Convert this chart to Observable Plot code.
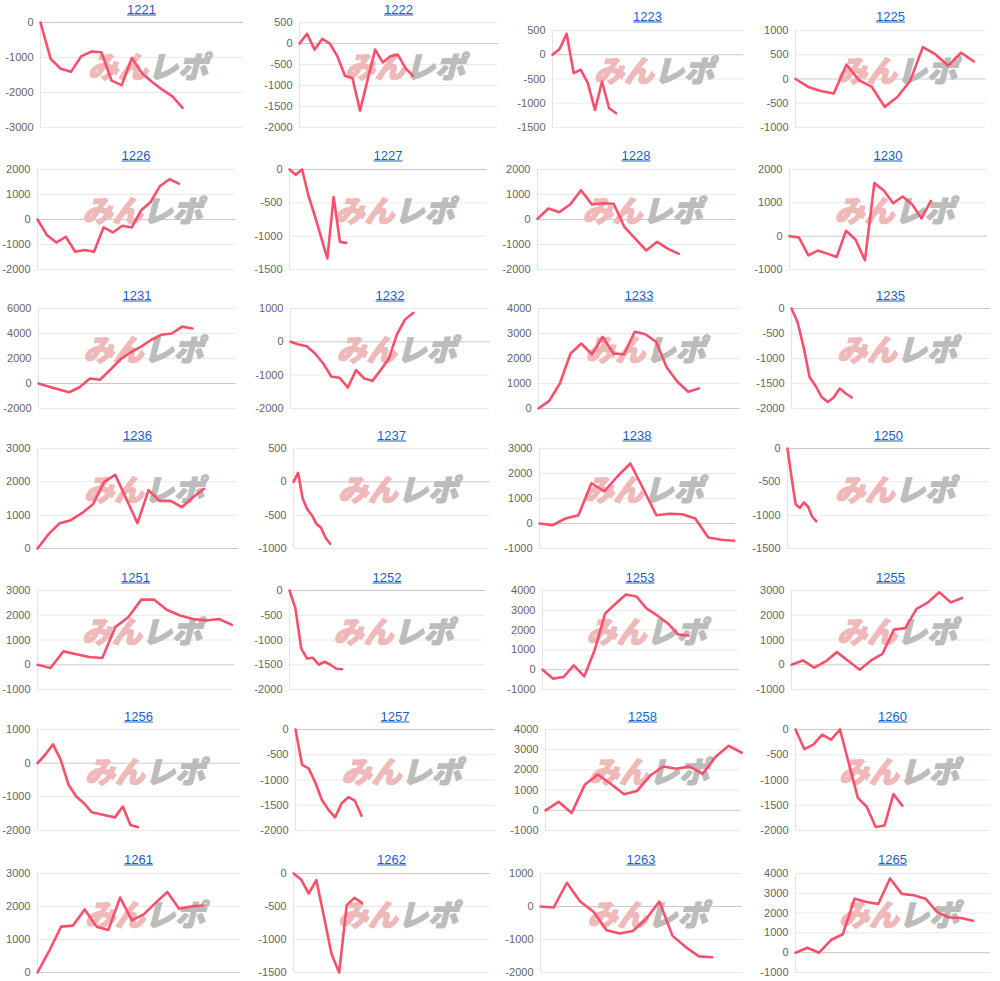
<!DOCTYPE html>
<html>
<head>
<meta charset="utf-8">
<script src="https://cdn.jsdelivr.net/npm/d3@7"></script>
<script src="https://cdn.jsdelivr.net/npm/@observablehq/plot@0.6"></script>
<style>
  html, body { margin: 0; padding: 0; background: #fff; }
  #wrap { position: relative; width: 1000px; height: 981px; overflow: hidden; font-family: "Liberation Sans", Arial, Helvetica, sans-serif; }
  .ttl { position: absolute; transform: translate(-50%, -50%); color: #1a5fc8; text-decoration: underline; font-size: 13px; white-space: nowrap; }
  .pnl { position: absolute; }
</style>
</head>
<body>
<div id="wrap"></div>
<script>
// ---- data ----
const machines = ["1221","1222","1223","1225","1226","1227","1228","1230","1231","1232","1233","1235","1236","1237","1238","1250","1251","1252","1253","1255","1256","1257","1258","1260","1261","1262","1263","1265"];

const s1221 = [0, -1040, -1320, -1410, -970, -830, -850, -1660, -1790, -1010, -1450, -1700, -1920, -2110, -2440];
const s1222 = [0, 230, -145, 110, 0, -300, -770, -825, -1600, -865, -145, -450, -305, -265, -585, -770];
const s1223 = [0, 117, 434, -380, -310, -586, -1138, -552, -1103, -1207];
const s1225 = [0, -164, -247, -301, 295, -27, -164, -575, -370, -41, 658, 507, 274, 541, 363];
const s1226 = [0, -625, -917, -691, -1289, -1223, -1289, -319, -518, -252, -319, 372, 704, 1342, 1608, 1435];
const s1227 = [0, -80, 0, -390, -690, -1010, -1335, -413, -1086, -1101];
const s1228 = [30, 440, 293, 600, 1173, 600, 653, 627, -307, -773, -1240, -893, -1173, -1373];
const s1230 = [0, -40, -574, -433, -524, -624, 161, -101, -725, 1591, 1370, 987, 1189, 957, 534, 1058];
const s1231 = [0, -250, -480, -700, -300, 400, 300, 1100, 1950, 2500, 2950, 3500, 3900, 4000, 4550, 4400];
const s1232 = [0, -80, -130, -350, -650, -1050, -1080, -1370, -850, -1100, -1170, -850, -500, 230, 680, 870];
const s1233 = [0, 307, 1000, 2200, 2600, 2170, 2870, 2200, 2170, 3070, 2970, 2670, 1640, 1070, 670, 800];
const s1235 = [0, -270, -770, -1370, -1550, -1770, -1870, -1780, -1600, -1700, -1780];
const s1236 = [0, 430, 760, 850, 1060, 1330, 2000, 2210, 1490, 760, 1750, 1430, 1430, 1240, 1540, 1790];
const s1237 = [0, 135, -250, -410, -500, -630, -690, -840, -930];
const s1238 = [0, -70, 200, 330, 1610, 1290, 1880, 2400, 1380, 330, 390, 370, 200, -560, -650, -690];
const s1250 = [0, -440, -840, -890, -810, -870, -1020, -1090];
const s1251 = [0, -130, 540, 420, 310, 270, 1520, 1920, 2630, 2630, 2210, 1990, 1850, 1790, 1850, 1610];
const s1252 = [0, -355, -1170, -1375, -1360, -1500, -1440, -1500, -1580, -1590];
const s1253 = [0, -450, -370, 220, -340, 980, 2830, 3330, 3800, 3700, 3080, 2740, 2350, 1780, 1730];
const s1255 = [0, 175, -120, 135, 510, 150, -200, 175, 440, 1420, 1480, 2260, 2520, 2930, 2520, 2700];
const s1256 = [0, 250, 560, 100, -640, -990, -1190, -1460, -1510, -1560, -1610, -1290, -1840, -1900];
const s1257 = [0, -700, -770, -1050, -1395, -1590, -1740, -1460, -1340, -1410, -1710];
const s1258 = [0, 420, -130, 1260, 1770, 1300, 790, 960, 1720, 2170, 2060, 2170, 1800, 2650, 3190, 2850];
const s1260 = [0, -390, -300, -100, -200, 0, -680, -1355, -1530, -1930, -1900, -1280, -1510];
const s1261 = [0, 660, 1390, 1420, 1910, 1390, 1290, 2270, 1580, 1760, 2110, 2440, 1930, 2000, 2030];
const s1262 = [0, -90, -305, -100, -650, -1220, -1500, -480, -370, -445];
const s1263 = [0, -30, 720, 150, -150, -720, -820, -740, -380, 150, -890, -1230, -1510, -1540];
const s1265 = [0, 250, 0, 640, 930, 2730, 2560, 2460, 3750, 2970, 2900, 2730, 2050, 1780, 1750, 1610];

const series = [s1221,s1222,s1223,s1225,s1226,s1227,s1228,s1230,s1231,s1232,s1233,s1235,s1236,s1237,s1238,s1250,s1251,s1252,s1253,s1255,s1256,s1257,s1258,s1260,s1261,s1262,s1263,s1265];

// x extent (number of slots on the category axis)
const xSlots = [20, 26.3, 27, 15, 21, 31.4, 18.2, 21, 19.3, 24.4, 18.9, 33, 18.1, 43, 15.1, 49.5, 15.2, 33.5, 18.8, 17.5, 26.2, 30.3, 14.9, 21.9, 17.2, 25.9, 15.3, 16.5];
// y axis tick ranges
const yMin  = [-3000,-2000,-1500,-1000,-2000,-1500,-2000,-1000,-2000,-2000,0,-2000,0,-1000,-1000,-1500,-1000,-2000,-1000,-1000,-2000,-2000,-1000,-2000,0,-1500,-2000,-1000];
const yMax  = [0,500,500,1000,2000,0,2000,2000,6000,1000,4000,0,3000,500,3000,0,3000,0,4000,3000,1000,0,4000,0,3000,0,1000,4000];
const yStep = [1000,500,500,500,1000,500,1000,1000,2000,1000,1000,500,1000,500,1000,500,1000,500,1000,1000,1000,500,1000,500,1000,500,1000,1000];

// ---- layout (pixel geometry of each small chart) ----
const plotLeft  = [40,299,552,795, 37,289,537,789, 38,290,538,791, 37,293,539,787, 37,289,542,791, 37,295,545,795, 37,293,540,795];
const plotRight = [243,498,743,986, 235,487,735,987, 236,490,740,990, 238,490,735,990, 234,485,738,990, 240,495,740,990, 240,490,742,990];
const rowTop    = [22,169,308,448,590,729,873];
const rowBottom = [127,269,408,548,689,830,972];
const rowTitle  = [9,155,295,435,577,716,859];

const wrap = document.getElementById("wrap");
const ML = 46, MR = 2, MT = 8, MB = 6;
const wmFont = "'Noto Sans CJK JP', sans-serif";

machines.forEach((name, k) => {
  const row = Math.floor(k / 4), col = k % 4;
  let top = rowTop[row], bottom = rowBottom[row], tY = rowTitle[row];
  if (row === 0 && col >= 2) { top = 30; tY = 16; }
  const left = plotLeft[k], right = plotRight[k];
  const data = series[k];
  const ticks = d3.range(yMin[k], yMax[k] + 1, yStep[k]);

  const chart = Plot.plot({
    width: right - left + ML + MR,
    height: bottom - top + MT + MB,
    marginLeft: ML, marginRight: MR, marginTop: MT, marginBottom: MB,
    style: { fontSize: "11px", fontFamily: "'Liberation Sans', Arial, Helvetica, sans-serif", color: "#666", background: "transparent", overflow: "visible" },
    x: { domain: [0, xSlots[k]], axis: null },
    y: { domain: [yMin[k], yMax[k]], ticks, tickSize: 0, tickPadding: 7, tickFormat: d => String(d), label: null },
    marks: [
      Plot.ruleY(ticks.filter(t => t !== 0), { stroke: "#e9e9e9", strokeWidth: 1 }),
      Plot.ruleY(ticks.filter(t => t === 0), { stroke: "#c9c9c9", strokeWidth: 1 }),
      Plot.ruleX([0], { stroke: "#e4e4e4", strokeWidth: 1 }),
      Plot.text(["みん"], { frameAnchor: "middle", text: d => d, dx: -24, dy: -7, fill: "#efb9b9", stroke: "#efb9b9", strokeWidth: 1.2, fontSize: 30, fontWeight: 900, fontStyle: "italic", fontFamily: wmFont }),
      Plot.text(["レポ"], { frameAnchor: "middle", text: d => d, dx: 36, dy: -7, fill: "#bcbcbc", stroke: "#bcbcbc", strokeWidth: 1.2, fontSize: 30, fontWeight: 900, fontStyle: "italic", fontFamily: wmFont }),
      Plot.line(data, { x: (d, i) => i, y: d => d, stroke: "#f8506c", strokeWidth: 2.6, strokeLinejoin: "round", strokeLinecap: "round" })
    ]
  });

  const box = document.createElement("div");
  box.className = "pnl";
  box.style.left = (left - ML) + "px";
  box.style.top = (top - MT) + "px";
  box.appendChild(chart);
  wrap.appendChild(box);

  const t = document.createElement("div");
  t.className = "ttl";
  t.textContent = name;
  t.style.left = ((left + right) / 2) + "px";
  t.style.top = tY + "px";
  wrap.appendChild(t);
});
</script>
</body>
</html>
